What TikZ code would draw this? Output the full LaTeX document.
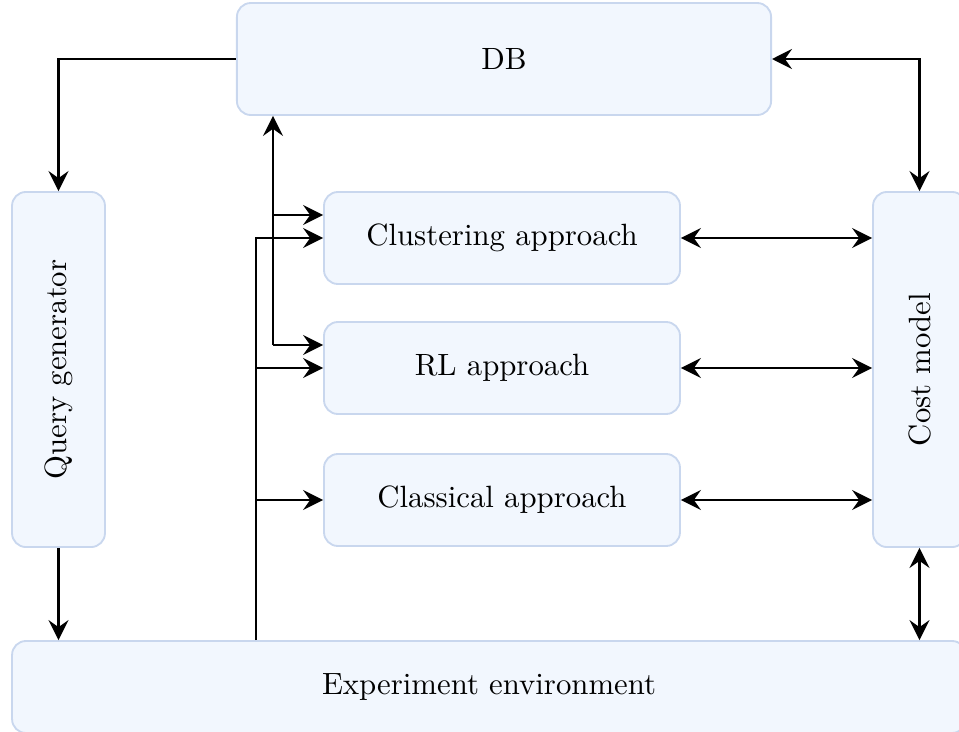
\documentclass[tikz,border=0pt]{standalone}
\usepackage{tikz}
\usepackage{xcolor}
\usetikzlibrary{arrows.meta,calc}
\definecolor{boxfill}{HTML}{F2F7FE}
\definecolor{boxline}{HTML}{C9D7EE}
\tikzset{
  block/.style={draw=boxline, fill=boxfill, line width=0.6pt, rounded corners=4.5pt, inner sep=0pt},
  link/.style={->, line width=0.75pt, >={Stealth[length=6.5pt,width=6.5pt,inset=2.3pt]}},
  dlink/.style={<->, line width=0.75pt, >={Stealth[length=6.5pt,width=6.5pt,inset=2.3pt]}},
}

\begin{document}
\begin{tikzpicture}[x=0.325pt, y=-0.325pt]
  \useasboundingbox (0,0) rectangle (959,732);
  \node[block, minimum width=173.6pt, minimum height=36.4pt] (db) at (504,59) {DB};
  \node[block, minimum width=30.2pt, minimum height=115.4pt] (qgen) at (58.5,369.5) {\rotatebox{90}{Query generator}};
  \node[block, minimum width=30.2pt, minimum height=115.4pt] (cost) at (919.5,369.5) {\rotatebox{90}{Cost model}};
  \node[block, minimum width=115.7pt, minimum height=29.9pt] (clust) at (502,238) {Clustering approach};
  \node[block, minimum width=115.7pt, minimum height=29.9pt] (rl) at (502,368) {RL approach};
  \node[block, minimum width=115.7pt, minimum height=29.9pt] (classic) at (502,500) {Classical approach};
  \node[block, minimum width=310pt, minimum height=29.9pt] (env) at (489,687) {Experiment environment};
  \coordinate (bus) at (256,0);
  \coordinate (dbtap) at (273,0);
  \coordinate (clustin) at ($(clust.west)+(0,-23)$);
  \coordinate (rlin) at ($(rl.west)+(0,-23)$);
  % outer loop
  \draw[link] (db.west) -| (qgen.north);
  \draw[dlink] (db.east) -| (cost.north);
  \draw[link] (qgen.south) -- (qgen.south |- env.north);
  \draw[dlink] (cost.south) -- (cost.south |- env.north);
  % environment feeds the approaches
  \draw[link] (bus |- env.north) |- (clust.west);
  \draw[link] (bus |- rl.west) -- (rl.west);
  \draw[link] (bus |- classic.west) -- (classic.west);
  % db access
  \draw[link] (dbtap |- rlin) -- (dbtap |- db.south);
  \draw[link] (dbtap |- rlin) -- (rlin);
  \draw[link] (dbtap |- clustin) -- (clustin);
  % cost model
  \draw[dlink] (clust.east) -- (clust.east -| cost.west);
  \draw[dlink] (rl.east) -- (rl.east -| cost.west);
  \draw[dlink] (classic.east) -- (classic.east -| cost.west);
\end{tikzpicture}
\end{document}
